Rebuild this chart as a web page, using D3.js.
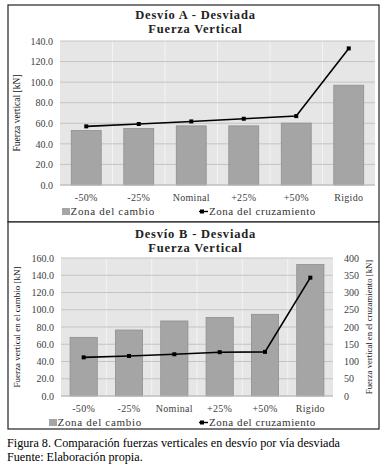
<!DOCTYPE html>
<html><head><meta charset="utf-8">
<script src="https://cdn.jsdelivr.net/npm/d3@7"></script>
</head><body style="margin:0"><svg id="c" width="390" height="468"></svg>
<script>
const categories = ["-50%","-25%","Nominal","+25%","+50%","Rigido"];
const aCambio = [53.0, 55.0, 57.5, 57.5, 60.2, 97.0];
const aCruz = [57.0, 59.3, 61.8, 64.4, 67.0, 132.8];
const bCambio = [68.0, 76.5, 87.0, 91.0, 94.7, 152.5];
const bCruz = [112, 116, 121, 127, 128, 343];
const aTicks = [0,20,40,60,80,100,120,140];
const bTicksL = [0,20,40,60,80,100,120,140,160];
const bTicksR = [0,50,100,150,200,250,300,350,400];
const seriesNames = ["Zona del cambio","Zona del cruzamiento"];

const svg = d3.select("#c");
svg.append("rect").attr("width",390).attr("height",468).attr("fill","#fff");
function T(parent, size, x, y, txt){
  return parent.append("text").style("font-family","'Liberation Serif'").style("font-size",size+"px")
    .attr("x",x).attr("y",y).text(txt);
}
function F(sel, size){ sel.attr("font-family",null).attr("font-size",null)
  .style("font-family","'Liberation Serif'").style("font-size",size+"px"); }

function panel(o){
  const g = svg.append("g");
  g.append("rect").attr("x",o.fx).attr("y",o.fy).attr("width",o.fw).attr("height",o.fh)
    .attr("fill","#fff").attr("stroke","#222").attr("stroke-width",1.2);
  const x = d3.scaleBand().domain(categories).range([o.x0,o.x1]);
  const y = d3.scaleLinear().domain([0,o.ymax]).range([o.y1,o.y0]);
  g.append("rect").attr("x",o.x0).attr("y",o.y0).attr("width",o.x1-o.x0).attr("height",o.y1-o.y0).attr("fill","#e6e6e6");
  g.selectAll(".vg").data(categories.slice(1)).enter().append("line")
    .attr("x1",d=>x(d)).attr("x2",d=>x(d)).attr("y1",o.y0).attr("y2",o.y1)
    .attr("stroke","#f4f4f4").attr("stroke-width",1);
  g.selectAll(".hg").data(o.ticksL).enter().append("line")
    .attr("x1",o.x0).attr("x2",o.x1).attr("y1",d=>y(d)).attr("y2",d=>y(d))
    .attr("stroke","#c4c4c4").attr("stroke-width",1);
  const ag = g.append("g").attr("transform",`translate(${o.x0},0)`)
    .call(d3.axisLeft(y).tickValues(o.ticksL).tickFormat(d3.format(".1f")).tickSize(0).tickPadding(7));
  F(ag,10);
  ag.select(".domain").remove();
  ag.selectAll("text").attr("fill","#404040");
  F(ag.selectAll("text"),10);
  g.selectAll(".bar").data(o.bars).enter().append("rect")
    .attr("x",(d,i)=>x(categories[i])+x.bandwidth()*o.bp)
    .attr("width",x.bandwidth()*(1-2*o.bp))
    .attr("y",d=>y(d)).attr("height",d=>o.y1-y(d))
    .attr("fill","#a5a5a5").attr("stroke","#8f8f8f").attr("stroke-width",0.8);
  const yl = o.yR ? d3.scaleLinear().domain([0,o.yRmax]).range([o.y1,o.y0]) : y;
  const line = d3.line().x((d,i)=>x(categories[i])+x.bandwidth()/2).y(d=>yl(d));
  g.append("path").datum(o.line).attr("d",line).attr("fill","none").attr("stroke","#000").attr("stroke-width",1.6);
  g.selectAll(".pt").data(o.line).enter().append("rect")
    .attr("x",(d,i)=>x(categories[i])+x.bandwidth()/2-2).attr("y",d=>yl(d)-2)
    .attr("width",4).attr("height",4).attr("fill","#000");
  if(o.yR){
    const arg = g.append("g").attr("transform",`translate(${o.x1},0)`)
      .call(d3.axisRight(yl).tickValues(o.ticksR).tickFormat(d3.format("d")).tickSize(0).tickPadding(11));
    F(arg,10);
    arg.select(".domain").remove();
    arg.selectAll("text").attr("fill","#404040");
    F(arg.selectAll("text"),10);
    T(g,o.rfs,0,0,o.rlabel).attr("transform",`translate(${o.rlx},${(o.y0+o.y1)/2}) rotate(-90)`)
      .attr("text-anchor","middle").attr("fill","#111");
  }
  g.append("line").attr("x1",o.x0).attr("x2",o.x1).attr("y1",o.y1).attr("y2",o.y1).attr("stroke","#bdbdbd");
  categories.forEach(c=>{
    T(g,10,x(c)+x.bandwidth()/2,o.y1+16,c).attr("text-anchor","middle").attr("fill","#404040").attr("letter-spacing",0.3);
  });
  T(g,o.lfs,0,0,o.llabel).attr("transform",`translate(${o.llx},${(o.y0+o.y1)/2}) rotate(-90)`)
    .attr("text-anchor","middle").attr("fill","#111");
  const cx = o.fx+o.fw/2+2;
  T(g,12.5,cx,o.t1y,o.title).attr("text-anchor","middle").attr("font-weight","bold").attr("letter-spacing",0.8).attr("fill","#222");
  T(g,12.5,cx,o.t1y+14,"Fuerza Vertical").attr("text-anchor","middle").attr("font-weight","bold").attr("letter-spacing",0.8).attr("fill","#222");
  const ly = o.legY;
  g.append("rect").attr("x",o.lg1).attr("y",ly-7).attr("width",8).attr("height",7).attr("fill","#a5a5a5");
  T(g,11,o.lg1+8.5,ly,seriesNames[0]).attr("letter-spacing",0.7).attr("fill","#333");
  g.append("line").attr("x1",o.lg2).attr("x2",o.lg2+9).attr("y1",ly-3.5).attr("y2",ly-3.5).attr("stroke","#000").attr("stroke-width",1.4);
  g.append("rect").attr("x",o.lg2+1).attr("y",ly-5.5).attr("width",4).attr("height",4).attr("fill","#000");
  T(g,11,o.lg2+10,ly,seriesNames[1]).attr("letter-spacing",0.55).attr("fill","#333");
}

panel({fx:8,fy:5,fw:371,fh:217,x0:60,x1:375,y0:41,y1:185,ymax:140,ticksL:aTicks,bars:aCambio,line:aCruz,bp:0.215,
  llx:20,lfs:9.5,llabel:"Fuerza vertical [kN]",title:"Desvío A - Desviada",t1y:19,legY:215,lg1:62,lg2:199});
panel({fx:8,fy:222,fw:371,fh:207,x0:61,x1:333,y0:258,y1:396,ymax:160,ticksL:bTicksL,bars:bCambio,line:bCruz,bp:0.2,
  yR:true,yRmax:400,ticksR:bTicksR,rlx:372,rfs:8.7,rlabel:"Fuerza vertical en el cruzamiento [kN]",
  llx:20,lfs:9,llabel:"Fuerza vertical en el cambio [kN]",title:"Desvío B - Desviada",t1y:238,legY:426,lg1:49,lg2:199});

T(svg,12.2,7,447,"Figura 8. Comparación fuerzas verticales en desvío por vía desviada").attr("fill","#000");
T(svg,12.2,7,461,"Fuente: Elaboración propia.").attr("fill","#000");
</script></body></html>
